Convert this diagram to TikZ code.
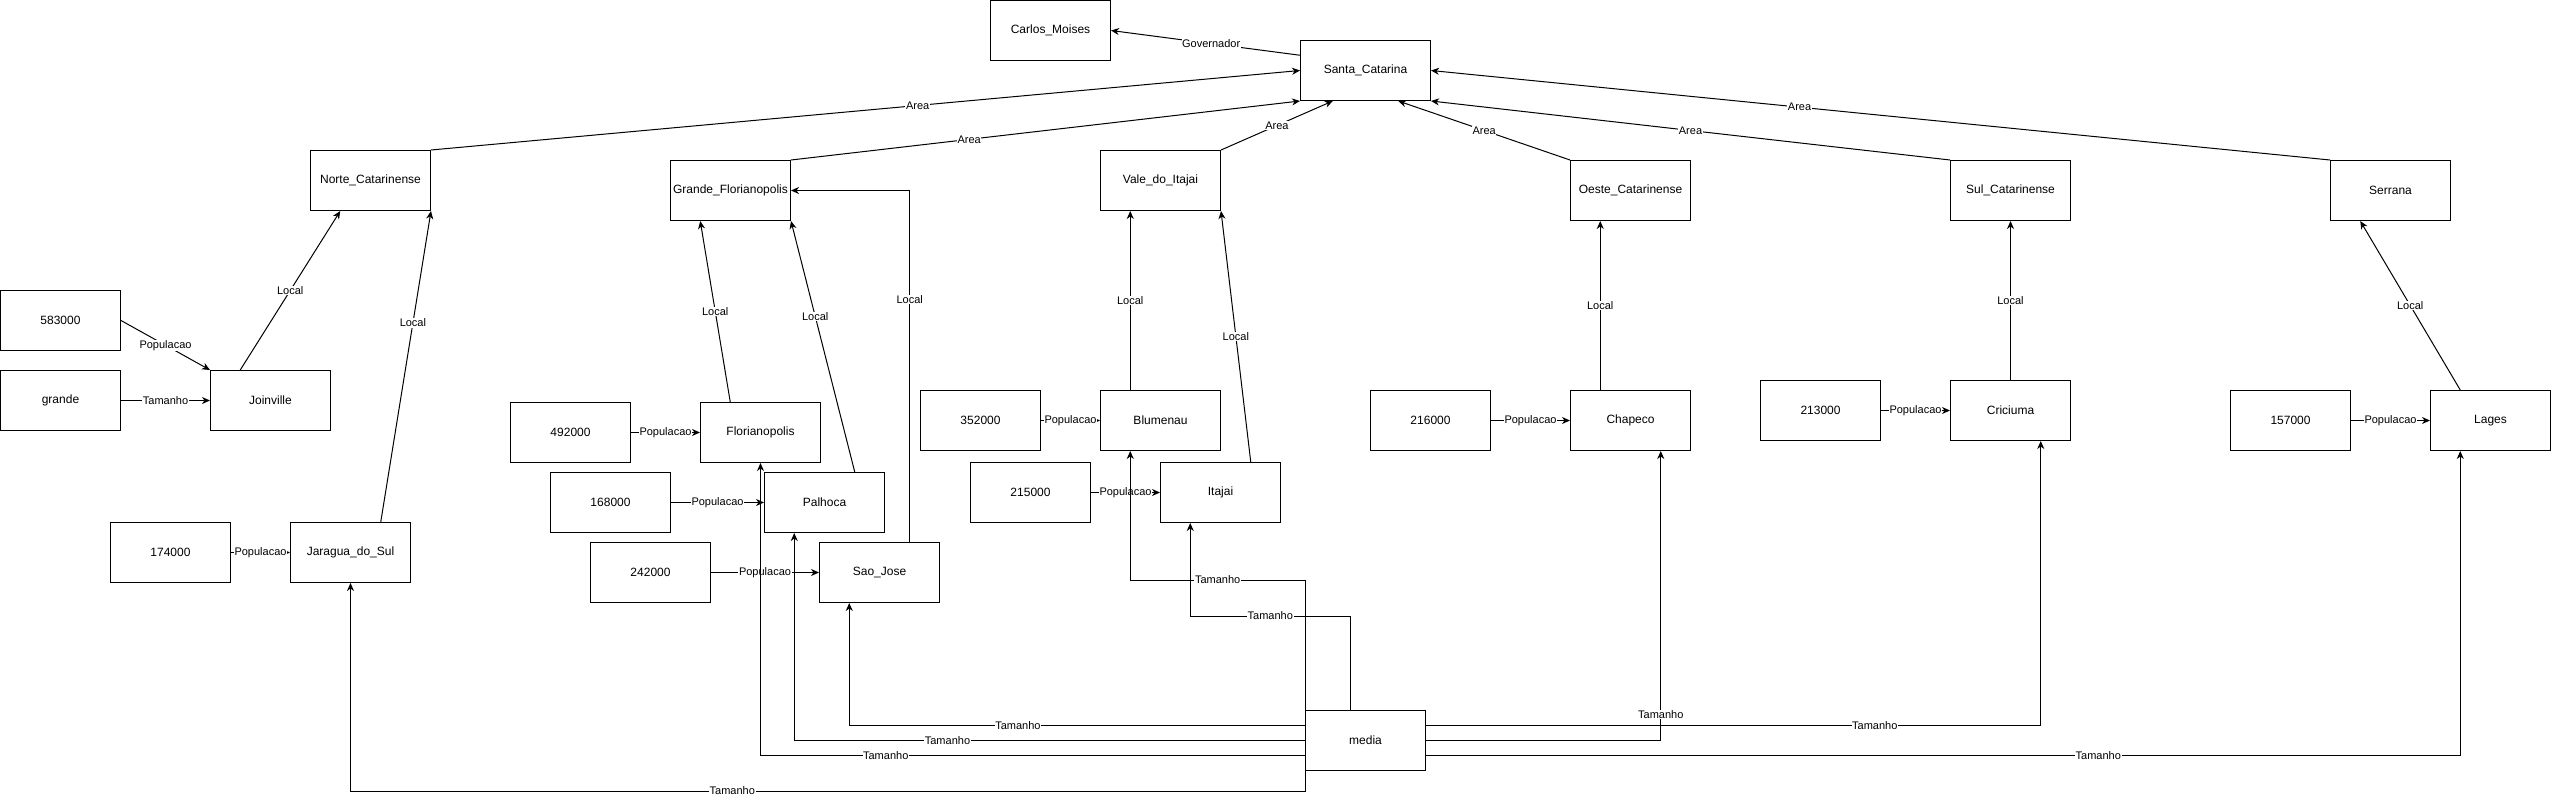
\documentclass[tikz,border=0pt]{standalone}
\usepackage{fontspec}
\setmainfont{Liberation Sans}
\usetikzlibrary{arrows.meta,calc}
\begin{document}
\begin{tikzpicture}[x=1pt,y=-1pt,
  box/.style={draw,line width=1pt,minimum width=120pt,minimum height=60pt,inner sep=0pt,
    font=\fontsize{12}{14}\selectfont,anchor=north west},
  conn/.style={line width=1pt,-{Stealth[length=8pt,width=7pt,inset=2.5pt]}},
  lbl/.style={fill=white,inner sep=0.6pt,font=\fontsize{11}{13}\selectfont}]
\useasboundingbox (0,0) rectangle (2551,800);
% nodes
\node[box] (carlos) at (990,0) {Carlos\_Moises};
\node[box,minimum width=130pt] (santa) at (1300,40) {Santa\_Catarina};
\node[box] (norte) at (310,150) {Norte\_Catarinense};
\node[box] (grande) at (670,160) {Grande\_Florianopolis};
\node[box] (vale) at (1100,150) {Vale\_do\_Itajai};
\node[box] (oeste) at (1570,160) {Oeste\_Catarinense};
\node[box] (sul) at (1950,160) {Sul\_Catarinense};
\node[box] (serrana) at (2330,160) {Serrana};
\node[box] (n583) at (0,290) {583000};
\node[box] (gr) at (0,370) {grande};
\node[box] (joinville) at (210,370) {Joinville};
\node[box] (n174) at (110,522) {174000};
\node[box] (jaragua) at (290,522) {Jaragua\_do\_Sul};
\node[box] (n492) at (510,402) {492000};
\node[box] (floripa) at (700,402) {Florianopolis};
\node[box] (n168) at (550,472) {168000};
\node[box] (palhoca) at (764,472) {Palhoca};
\node[box] (n242) at (590,542) {242000};
\node[box] (saojose) at (819,542) {Sao\_Jose};
\node[box] (n352) at (920,390) {352000};
\node[box] (blumenau) at (1100,390) {Blumenau};
\node[box] (n215) at (970,462) {215000};
\node[box] (itajai) at (1160,462) {Itajai};
\node[box] (n216) at (1370,390) {216000};
\node[box] (chapeco) at (1570,390) {Chapeco};
\node[box] (n213) at (1760,380) {213000};
\node[box] (criciuma) at (1950,380) {Criciuma};
\node[box] (n157) at (2230,390) {157000};
\node[box] (lages) at (2430,390) {Lages};
\node[box] (media) at (1305,710) {media};
% helper coordinates on borders
\coordinate (jt) at ($(joinville.north west)!0.25!(joinville.north east)$);
\coordinate (nb) at ($(norte.south west)!0.25!(norte.south east)$);
\coordinate (jat) at ($(jaragua.north west)!0.75!(jaragua.north east)$);
\coordinate (sb1) at ($(santa.south west)!0.25!(santa.south east)$);
\coordinate (sb3) at ($(santa.south west)!0.75!(santa.south east)$);
\coordinate (sl1) at ($(santa.north west)!0.25!(santa.south west)$);
\coordinate (ft) at ($(floripa.north west)!0.25!(floripa.north east)$);
\coordinate (gb) at ($(grande.south west)!0.25!(grande.south east)$);
\coordinate (pt) at ($(palhoca.north west)!0.75!(palhoca.north east)$);
\coordinate (sjt) at ($(saojose.north west)!0.75!(saojose.north east)$);
\coordinate (bt) at ($(blumenau.north west)!0.25!(blumenau.north east)$);
\coordinate (vb) at ($(vale.south west)!0.25!(vale.south east)$);
\coordinate (it) at ($(itajai.north west)!0.75!(itajai.north east)$);
\coordinate (ct) at ($(chapeco.north west)!0.25!(chapeco.north east)$);
\coordinate (ob) at ($(oeste.south west)!0.25!(oeste.south east)$);
\coordinate (lt) at ($(lages.north west)!0.25!(lages.north east)$);
\coordinate (seb) at ($(serrana.south west)!0.25!(serrana.south east)$);
\coordinate (sjb) at ($(saojose.south west)!0.25!(saojose.south east)$);
\coordinate (pb) at ($(palhoca.south west)!0.25!(palhoca.south east)$);
\coordinate (bb) at ($(blumenau.south west)!0.25!(blumenau.south east)$);
\coordinate (ib) at ($(itajai.south west)!0.25!(itajai.south east)$);
\coordinate (mt) at ($(media.north west)!0.375!(media.north east)$);
\coordinate (cb) at ($(criciuma.south west)!0.75!(criciuma.south east)$);
\coordinate (chb) at ($(chapeco.south west)!0.75!(chapeco.south east)$);
\coordinate (lb) at ($(lages.south west)!0.25!(lages.south east)$);
\coordinate (mw1) at ($(media.north west)!0.25!(media.south west)$);
\coordinate (mw3) at ($(media.north west)!0.75!(media.south west)$);
\coordinate (me1) at ($(media.north east)!0.25!(media.south east)$);
\coordinate (me3) at ($(media.north east)!0.75!(media.south east)$);
% Area / Governador
\draw[conn] (norte.north east) -- node[lbl,pos=0.56]{Area} (santa.west);
\draw[conn] (grande.north east) -- node[lbl,pos=0.35]{Area} (santa.south west);
\draw[conn] (vale.north east) -- node[lbl]{Area} (sb1);
\draw[conn] (oeste.north west) -- node[lbl]{Area} (sb3);
\draw[conn] (sul.north west) -- node[lbl]{Area} (santa.south east);
\draw[conn] (serrana.north west) -- node[lbl,pos=0.59]{Area} (santa.east);
\draw[conn] (sl1) -- node[lbl,pos=0.47]{Governador} (carlos.east);
% Norte
\draw[conn] (n583.east) -- node[lbl]{Populacao} (joinville.north west);
\draw[conn] (gr.east) -- node[lbl]{Tamanho} (joinville.west);
\draw[conn] (jt) -- node[lbl]{Local} (nb);
\draw[conn] (n174.east) -- node[lbl]{Populacao} (jaragua.west);
\draw[conn] (jat) -- node[lbl,pos=0.64]{Local} (norte.south east);
% Grande Florianopolis
\draw[conn] (n492.east) -- node[lbl]{Populacao} (floripa.west);
\draw[conn] (n168.east) -- node[lbl]{Populacao} (palhoca.west);
\draw[conn] (n242.east) -- node[lbl]{Populacao} (saojose.west);
\draw[conn] (ft) -- node[lbl]{Local} (gb);
\draw[conn] (pt) -- node[lbl,pos=0.62]{Local} (grande.south east);
\draw[conn] (sjt) -- node[lbl,pos=0.69]{Local} (sjt |- grande.east) -- (grande.east);
% Vale
\draw[conn] (n352.east) -- node[lbl]{Populacao} (blumenau.west);
\draw[conn] (n215.east) -- node[lbl]{Populacao} (itajai.west);
\draw[conn] (bt) -- node[lbl]{Local} (vb);
\draw[conn] (it) -- node[lbl]{Local} (vale.south east);
% Oeste, Sul, Serrana
\draw[conn] (n216.east) -- node[lbl]{Populacao} (chapeco.west);
\draw[conn] (ct) -- node[lbl]{Local} (ob);
\draw[conn] (n213.east) -- node[lbl]{Populacao} (criciuma.west);
\draw[conn] (criciuma.north) -- node[lbl]{Local} (sul.south);
\draw[conn] (n157.east) -- node[lbl]{Populacao} (lages.west);
\draw[conn] (lt) -- node[lbl]{Local} (seb);
% media -> Tamanho
\draw[conn] (media.south west) -- ++(0,20) coordinate (mj) -- node[lbl,pos=0.6]{Tamanho} (mj -| jaragua.south) -- (jaragua.south);
\draw[conn] (mw1) -- node[lbl,pos=0.63]{Tamanho} (mw1 -| sjb) -- (sjb);
\draw[conn] (media.west) -- node[lbl,pos=0.7]{Tamanho} (media.west -| pb) -- (pb);
\draw[conn] (mw3) -- node[lbl,pos=0.77]{Tamanho} (mw3 -| floripa.south) -- (floripa.south);
\draw[conn] (media.north west) -- ++(0,-130) coordinate (mb) -- node[lbl]{Tamanho} (mb -| bb) -- (bb);
\draw[conn] (mt) -- ++(0,-94) coordinate (mi) -- node[lbl]{Tamanho} (mi -| ib) -- (ib);
\draw[conn] (me1) -- node[lbl,pos=0.73]{Tamanho} (me1 -| cb) -- (cb);
\draw[conn] (media.east) -- (media.east -| chb) -- node[lbl,pos=0.09]{Tamanho} (chb);
\draw[conn] (me3) -- node[lbl,pos=0.65]{Tamanho} (me3 -| lb) -- (lb);
\end{tikzpicture}
\end{document}
